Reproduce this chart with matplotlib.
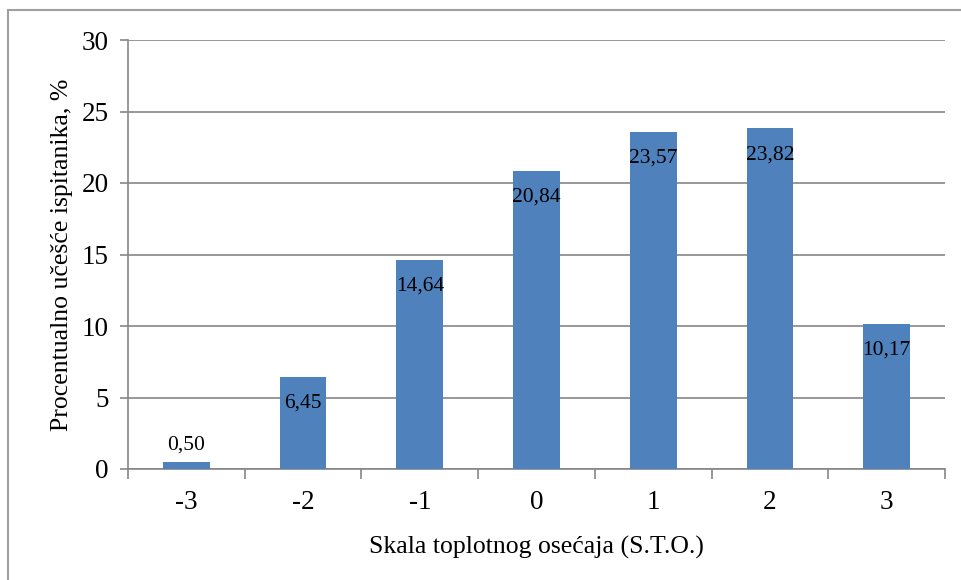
import matplotlib.pyplot as plt
from matplotlib.lines import Line2D

# Chart data
categories = ["-3", "-2", "-1", "0", "1", "2", "3"]
values = [0.50, 6.45, 14.64, 20.84, 23.57, 23.82, 10.17]
value_labels = ["0,50", "6,45", "14,64", "20,84", "23,57", "23,82", "10,17"]
y_ticks = [0, 5, 10, 15, 20, 25, 30]

plt.rcParams["font.family"] = ["Liberation Serif", "DejaVu Serif"]

W, H = 961, 580
fig = plt.figure(figsize=(W / 100, H / 100), dpi=100)
ax = fig.add_axes([128 / W, 1 - 469 / H, (945 - 128) / W, (469 - 40) / H])

gray = "#868686"
x = list(range(len(categories)))
bars = ax.bar(x, values, width=0.40, color="#4F81BD", zorder=3)

for xi, v, lab in zip(x, values, value_labels):
    if v < 3:
        ax.annotate(lab, (xi, v), xytext=(0, 5), textcoords="offset points",
                    ha="center", va="bottom", fontsize=15.5, zorder=4)
    else:
        ax.annotate(lab, (xi, v), xytext=(0, -19), textcoords="offset points",
                    ha="center", va="center", fontsize=15.5, zorder=4)

ax.set_xlim(-0.5, len(categories) - 0.5)
ax.set_ylim(0, 30)
ax.set_yticks(y_ticks)
ax.set_yticklabels([str(t) for t in y_ticks], fontsize=19.5)
ax.yaxis.grid(True, color=gray, linewidth=1.2, zorder=0)
ax.set_axisbelow(True)

# category labels centred, tick marks on boundaries
ax.set_xticks(x)
ax.set_xticklabels(categories, fontsize=19.5)
ax.tick_params(axis="x", which="major", length=0, pad=15)
ax.set_xticks([i - 0.5 for i in range(len(categories) + 1)], minor=True)
ax.tick_params(axis="x", which="minor", length=7, width=1.2, color=gray, direction="out")
ax.tick_params(axis="y", length=6, width=1.2, color=gray, direction="out", pad=8)

for s in ["top", "right"]:
    ax.spines[s].set_visible(False)
for s in ["left", "bottom"]:
    ax.spines[s].set_color(gray)
    ax.spines[s].set_linewidth(1.2)

ax.set_xlabel("Skala toplotnog osećaja (S.T.O.)", fontsize=18.5, labelpad=15)
ax.set_ylabel("Procentualno učešće ispitanika, %", fontsize=18.5, labelpad=6)

# outer chart border (only left and top visible in the frame)
bx, by = 8 / W, 1 - 10 / H
fig.add_artist(Line2D([bx, bx], [by, 0], transform=fig.transFigure, color="#A0A0A0", linewidth=1.5))
fig.add_artist(Line2D([bx, 1], [by, by], transform=fig.transFigure, color="#A0A0A0", linewidth=1.5))

plt.savefig("out.png", dpi=100)
